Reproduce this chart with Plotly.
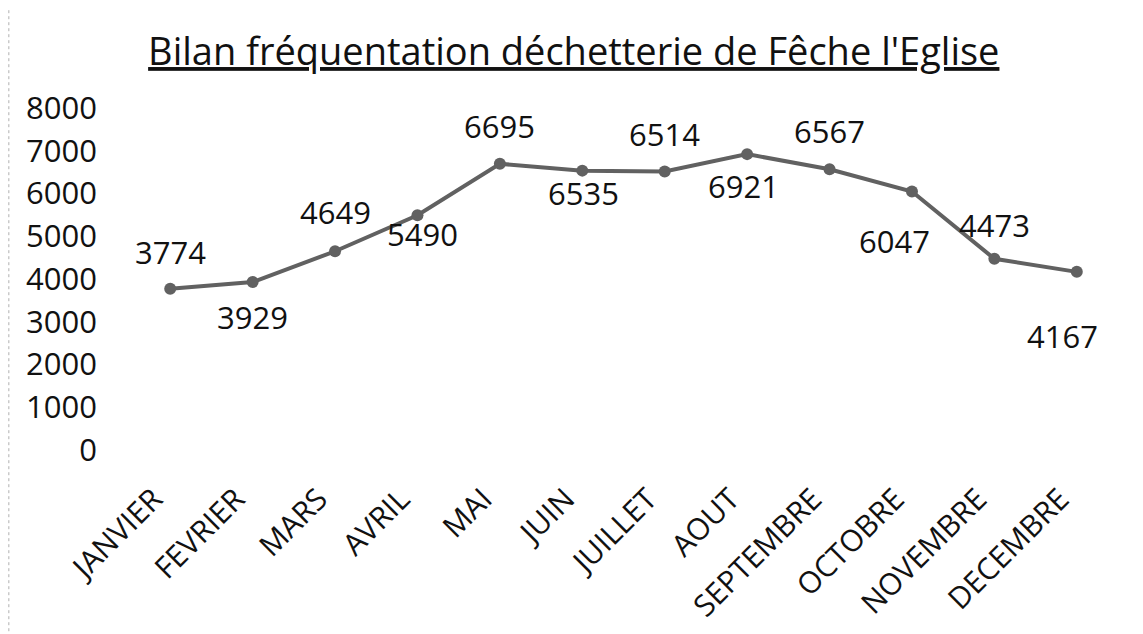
import plotly.graph_objects as go

months = ["JANVIER", "FEVRIER", "MARS", "AVRIL", "MAI", "JUIN", "JUILLET",
          "AOUT", "SEPTEMBRE", "OCTOBRE", "NOVEMBRE", "DECEMBRE"]
visits = [3774, 3929, 4649, 5490, 6695, 6535, 6514, 6921, 6567, 6047, 4473, 4167]
y_ticks = [0, 1000, 2000, 3000, 4000, 5000, 6000, 7000, 8000]
title_text = "Bilan fréquentation déchetterie de Fêche l'Eglise"

# label offsets (pixels) mimicking the original data-label placement
label_dx = [0, 0, 0, 5, 0, 1, 0, -4, 0, -17, 0, -14]
label_dy = [37, -35, 39, -19, 38, -22, 38, -32, 38, -50, 34, -64]

FONT = "Open Sans"
LINE = "#616161"
PAD = "\u00a0" * 3  # shifts rotated month labels slightly down-left like the original

fig = go.Figure()
fig.add_trace(go.Scatter(
    x=months, y=visits, mode="lines+markers",
    line=dict(color=LINE, width=4),
    marker=dict(color=LINE, size=12),
    hoverinfo="x+y", showlegend=False,
))

for m, v, dx, dy in zip(months, visits, label_dx, label_dy):
    fig.add_annotation(x=m, y=v, text=str(v), showarrow=False,
                       xshift=dx, yshift=dy,
                       font=dict(family=FONT, size=31, color="#111111"))

# page body has an 8px margin: compensate so the plot area sits where the original does
fig.update_layout(
    width=1143, height=634,
    paper_bgcolor="white", plot_bgcolor="white",
    margin=dict(l=121, r=33, t=100, b=192),
    title=dict(text=title_text, x=0.495, xanchor="center", y=0.931, yanchor="middle",
               font=dict(family=FONT, size=38, color="#111111", lineposition="under")),
    font=dict(family=FONT, color="#111111"),
    xaxis=dict(range=[-0.5, 11.5], showgrid=False, showline=False, zeroline=False,
               ticks="", automargin=False, tickangle=-45, ticklabelstandoff=8,
               tickmode="array", tickvals=months, ticktext=[m + PAD for m in months],
               tickfont=dict(size=30, family=FONT, color="#111111")),
    yaxis=dict(range=[0, 8000], tickvals=y_ticks, showgrid=False, showline=False,
               zeroline=False, ticks="", automargin=False, ticklabelstandoff=31,
               tickfont=dict(size=31, family=FONT, color="#111111")),
)

fig.add_shape(type="line", xref="paper", yref="paper",
              x0=-0.1215, x1=-0.1215, y0=-0.6, y1=1.3,
              line=dict(color="#b0b0b0", width=1, dash="dot"))

fig.write_html("out.html")
